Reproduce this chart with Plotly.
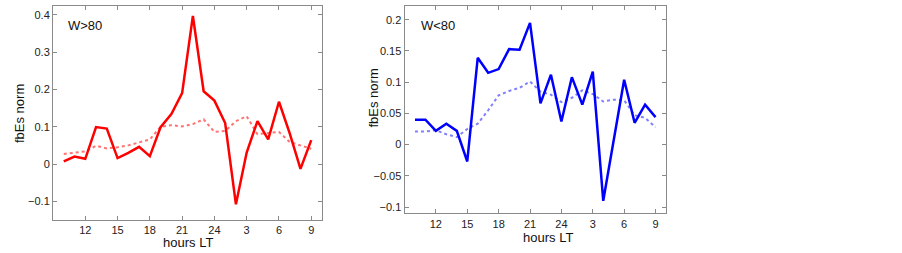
import plotly.graph_objects as go

hours = list(range(10, 34))
tick_vals = [12, 15, 18, 21, 24, 27, 30, 33]
tick_text = ["12", "15", "18", "21", "24", "3", "6", "9"]

w_high = [0.007, 0.020, 0.014, 0.099, 0.095, 0.016, 0.030, 0.046, 0.021, 0.099,
          0.134, 0.190, 0.397, 0.195, 0.170, 0.110, -0.108, 0.031, 0.115, 0.066,
          0.167, 0.082, -0.013, 0.064]
w_high_mean = [0.027, 0.031, 0.034, 0.049, 0.042, 0.045, 0.050, 0.058, 0.066, 0.100,
               0.104, 0.101, 0.107, 0.120, 0.086, 0.089, 0.115, 0.128, 0.080, 0.083,
               0.086, 0.059, 0.050, 0.041]

w_low = [0.040, 0.040, 0.022, 0.0335, 0.022, -0.027, 0.139, 0.115, 0.121, 0.153,
         0.152, 0.195, 0.066, 0.112, 0.037, 0.108, 0.064, 0.117, -0.090, 0.007,
         0.104, 0.035, 0.064, 0.044]
w_low_mean = [0.021, 0.021, 0.023, 0.0165, 0.012, 0.025, 0.0335, 0.055, 0.079, 0.086,
              0.091, 0.101, 0.085, 0.080, 0.068, 0.075, 0.087, 0.081, 0.069, 0.072,
              0.071, 0.047, 0.043, 0.028]

W, H = 902, 253
fig = go.Figure()

fig.add_trace(go.Scatter(x=hours, y=w_high_mean, mode="lines", xaxis="x", yaxis="y",
                         line=dict(color="rgba(255,0,0,0.55)", width=2, dash="dot"),
                         showlegend=False))
fig.add_trace(go.Scatter(x=hours, y=w_high, mode="lines", xaxis="x", yaxis="y",
                         line=dict(color="#ff0000", width=2.5), showlegend=False))
fig.add_trace(go.Scatter(x=hours, y=w_low_mean, mode="lines", xaxis="x2", yaxis="y2",
                         line=dict(color="rgba(0,0,255,0.5)", width=2, dash="dot"),
                         showlegend=False))
fig.add_trace(go.Scatter(x=hours, y=w_low, mode="lines", xaxis="x2", yaxis="y2",
                         line=dict(color="#0000ff", width=2.5), showlegend=False))

axis_common = dict(showgrid=False, zeroline=False, showline=True, linecolor="#8a8a8a",
                   linewidth=1, mirror="allticks", ticks="inside", ticklen=4,
                   tickcolor="#8a8a8a", tickfont=dict(size=11, color="#222"))

def px_x(p):
    return p / W

def px_y(p):
    return 1 - p / H

fig.update_layout(
    width=W, height=H,
    margin=dict(l=0, r=0, t=0, b=0),
    paper_bgcolor="white", plot_bgcolor="white",
    font=dict(family="Liberation Sans, Arial, sans-serif", color="#222"),
    xaxis=dict(domain=[px_x(53), px_x(322)], range=[9, 34], tickvals=tick_vals,
               ticktext=tick_text, anchor="y", **axis_common),
    yaxis=dict(domain=[px_y(220), px_y(5.5)], range=[-0.15, 0.425],
               tickvals=[-0.1, 0, 0.1, 0.2, 0.3, 0.4],
               ticktext=["\u22120.1", "0", "0.1", "0.2", "0.3", "0.4"],
               anchor="x", **axis_common),
    xaxis2=dict(domain=[px_x(404.5), px_x(666)], range=[9, 34], tickvals=tick_vals,
                ticktext=tick_text, anchor="y2", **axis_common),
    yaxis2=dict(domain=[px_y(213.3), px_y(6)], range=[-0.11, 0.222],
                tickvals=[-0.1, -0.05, 0, 0.05, 0.1, 0.15, 0.2],
                ticktext=["\u22120.1", "\u22120.05", "0", "0.05", "0.1", "0.15", "0.2"],
                anchor="x2", **axis_common),
)

ann = [
    dict(text="W>80", x=px_x(66), y=px_y(26), xanchor="left", size=13),
    dict(text="W<80", x=px_x(419), y=px_y(26), xanchor="left", size=13),
    dict(text="hours LT", x=px_x(188), y=px_y(242), xanchor="center", size=13),
    dict(text="hours LT", x=px_x(547.5), y=px_y(237), xanchor="center", size=13),
]
for a in ann:
    fig.add_annotation(text=a["text"], x=a["x"], y=a["y"], xref="paper", yref="paper",
                       xanchor=a["xanchor"], yanchor="middle", showarrow=False,
                       font=dict(size=a["size"], color="#111"))
fig.add_annotation(text="fbEs norm", x=px_x(19), y=px_y(114), xref="paper", yref="paper",
                   xanchor="center", yanchor="middle",
                   textangle=-90, showarrow=False, font=dict(size=13, color="#111"))
fig.add_annotation(text="fbEs norm", x=px_x(372.5), y=px_y(98), xref="paper", yref="paper",
                   xanchor="center", yanchor="middle",
                   textangle=-90, showarrow=False, font=dict(size=13, color="#111"))

fig.write_html("out.html", config={"displayModeBar": False},
               post_script="document.body.style.margin='0';document.body.style.overflow='hidden';")
